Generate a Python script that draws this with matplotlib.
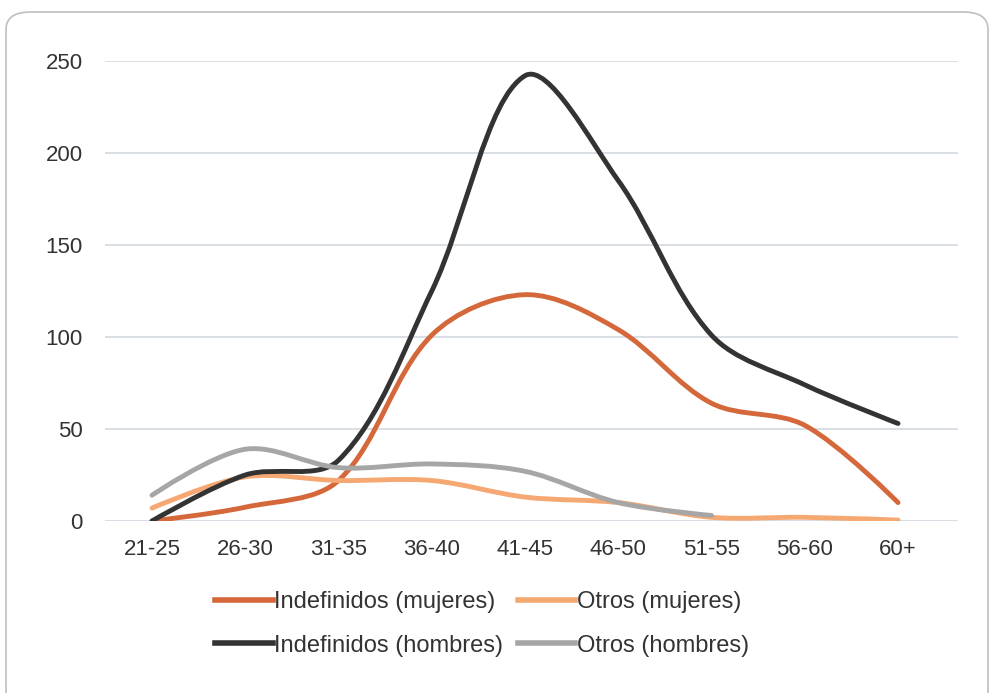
import numpy as np
import matplotlib.pyplot as plt
from matplotlib.path import Path
from matplotlib.patches import PathPatch, FancyBboxPatch
from matplotlib.lines import Line2D

plt.rcParams['font.family'] = ['Liberation Sans', 'DejaVu Sans']

# Datos
categorias = ['21-25', '26-30', '31-35', '36-40', '41-45', '46-50', '51-55', '56-60', '60+']
indef_mujeres = [0, 7.5, 22, 101, 123, 104, 64, 52, 10]
otros_mujeres = [7, 24, 22, 22, 13, 10, 2, 2, 0.5]
indef_hombres = [0, 25, 33, 125, 242, 185, 101, 74, 53]
otros_hombres = [14, 39, 29, 31, 27, 10, 3]

series = [
    ('Indefinidos (mujeres)', indef_mujeres, '#d4683a'),
    ('Otros (mujeres)', otros_mujeres, '#f6a872'),
    ('Indefinidos (hombres)', indef_hombres, '#333333'),
    ('Otros (hombres)', otros_hombres, '#a6a6a6'),
]


def curva_suave(ax, xs, ys):
    # Bezier con tangentes ponderadas por distancia en pixeles (parecido a Excel)
    P = ax.transData.transform(np.column_stack([xs, ys]))
    n = len(P)
    d = np.hypot(*np.diff(P, axis=0).T)
    cin = P.copy()
    cout = P.copy()
    for i in range(1, n - 1):
        T = P[i + 1] - P[i - 1]
        tot = d[i - 1] + d[i]
        cin[i] = P[i] - T * d[i - 1] / tot / 3.0
        cout[i] = P[i] + T * d[i] / tot / 3.0
    verts = [P[0]]
    codes = [Path.MOVETO]
    for i in range(n - 1):
        verts += [cout[i], cin[i + 1], P[i + 1]]
        codes += [Path.CURVE4] * 3
    verts = ax.transData.inverted().transform(np.array(verts))
    return Path(verts, codes)


fig = plt.figure(figsize=(9.93, 6.93), dpi=100)

# marco redondeado
marco = FancyBboxPatch((6 / 993, -0.05), 982 / 993, 1 - 12 / 693 + 0.05,
                       boxstyle='round,pad=0,rounding_size=0.025',
                       transform=fig.transFigure, facecolor='white',
                       edgecolor='#bfbfbf', linewidth=1.2, zorder=-1)
fig.patches.append(marco)

ax = fig.add_axes([105 / 993, 1 - 521 / 693, 853 / 993, 460 / 693])
ax.set_zorder(2)
ax.patch.set_alpha(0)

ax.set_ylim(0, 250)
ax.set_xlim(-0.504, 8.643)
ax.set_yticks([0, 50, 100, 150, 200, 250])
ax.set_xticks(range(len(categorias)))
ax.set_xticklabels(categorias)
ax.tick_params(length=0, labelsize=16, colors='#333333')
ax.tick_params(axis='x', pad=13)
ax.tick_params(axis='y', pad=16)
for s in ax.spines.values():
    s.set_visible(False)
ax.grid(axis='y', color='#d3d9e0', linewidth=1.2)
ax.set_axisbelow(True)

handles = []
for nombre, vals, color in series:
    xs = np.arange(len(vals))
    p = curva_suave(ax, xs, vals)
    ax.add_patch(PathPatch(p, facecolor='none', edgecolor=color, lw=3.5,
                           capstyle='round', joinstyle='round'))
    handles.append(Line2D([], [], color=color, lw=4))

# orden por filas en la leyenda
orden = [0, 2, 1, 3]
leg = fig.legend([handles[i] for i in orden], [series[i][0] for i in orden],
                 ncol=2, loc='center', bbox_to_anchor=(482 / 993, 1 - 624 / 693),
                 frameon=False, fontsize=17, handlelength=2.45, handletextpad=0.05,
                 columnspacing=0.6, labelspacing=0.9, labelcolor='#333333')
leg.set_zorder(3)

fig.savefig('out.png', dpi=100)
